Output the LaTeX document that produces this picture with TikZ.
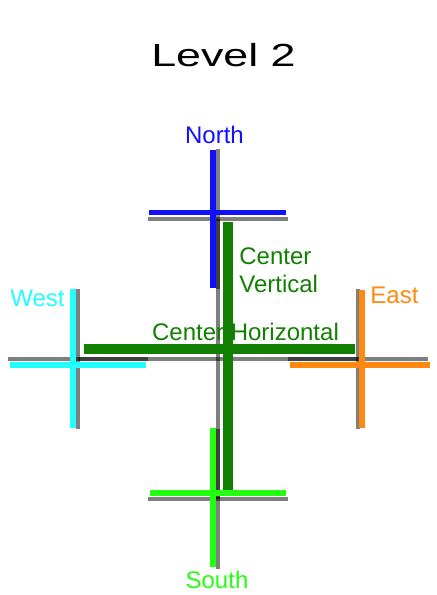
\documentclass[tikz,border=0pt]{standalone}
\usepackage{graphicx}
\usepackage{fontspec}
\setmainfont{Liberation Sans}
\definecolor{northblue}{RGB}{16,16,255}
\definecolor{westcyan}{RGB}{34,255,255}
\definecolor{eastorange}{RGB}{255,136,16}
\definecolor{southgreen}{RGB}{34,255,16}
\definecolor{centergreen}{RGB}{17,128,0}
\begin{document}
\begin{tikzpicture}[scale=0.2]
\tikzstyle{every node}+=[inner sep=0pt, anchor=base, font=\fontsize{13.66}{15.9}\selectfont]
\tikzstyle{guide}=[black, opacity=0.5, line width=2.28pt]
\tikzstyle{arm}=[line width=3.1pt]
\tikzstyle{bar}=[centergreen, line width=5.69pt]
\useasboundingbox (0,0) rectangle (43.7,-59.5);
\draw (22.35,-6.6) node (title) [font=\fontsize{18.2}{22}\selectfont] {\scalebox{1.4}[1]{Level 2}};
\draw [guide] (14.8,-21.9) -- (28.8,-21.9);
\draw [guide] (21.8,-14.9) -- (21.8,-28.9);
\draw [guide] (0.8,-35.9) -- (14.8,-35.9);
\draw [guide] (7.8,-28.9) -- (7.8,-42.9);
\draw [guide] (28.8,-35.9) -- (42.8,-35.9);
\draw [guide] (35.8,-28.9) -- (35.8,-42.9);
\draw [guide] (14.8,-49.9) -- (28.8,-49.9);
\draw [guide] (21.8,-42.9) -- (21.8,-56.9);
\draw [guide] (7.8,-35.9) -- (35.8,-35.9);
\draw [guide] (21.8,-21.9) -- (21.8,-49.9);
\draw [arm, northblue] (21.3,-15.0) -- (21.3,-28.8);
\draw [arm, northblue] (14.9,-21.25) -- (28.6,-21.25);
\draw (21.45,-14.3) node (north) [northblue] {North};
\draw [arm, westcyan] (7.3,-28.9) -- (7.3,-42.8);
\draw [arm, westcyan] (1.0,-36.5) -- (14.6,-36.5);
\draw (3.75,-30.6) node (west) [westcyan] {West};
\draw [arm, eastorange] (36.2,-29.0) -- (36.2,-42.8);
\draw [arm, eastorange] (29.0,-36.5) -- (43.0,-36.5);
\draw (39.45,-30.3) node (east) [eastorange] {East};
\draw [arm, southgreen] (21.3,-42.8) -- (21.3,-56.7);
\draw [arm, southgreen] (15.0,-49.3) -- (28.6,-49.3);
\draw (21.7,-58.8) node (south) [southgreen] {South};
\draw [bar] (22.8,-22.2) -- (22.8,-49.0);
\draw [bar] (8.4,-34.9) -- (35.5,-34.9);
\draw (23.9,-29.2) node (centerv) [centergreen, anchor=base west, align=left] {Center\\Vertical};
\draw (24.55,-34.0) node (centerh) [centergreen] {Center Horizontal};
\end{tikzpicture}
\end{document}
